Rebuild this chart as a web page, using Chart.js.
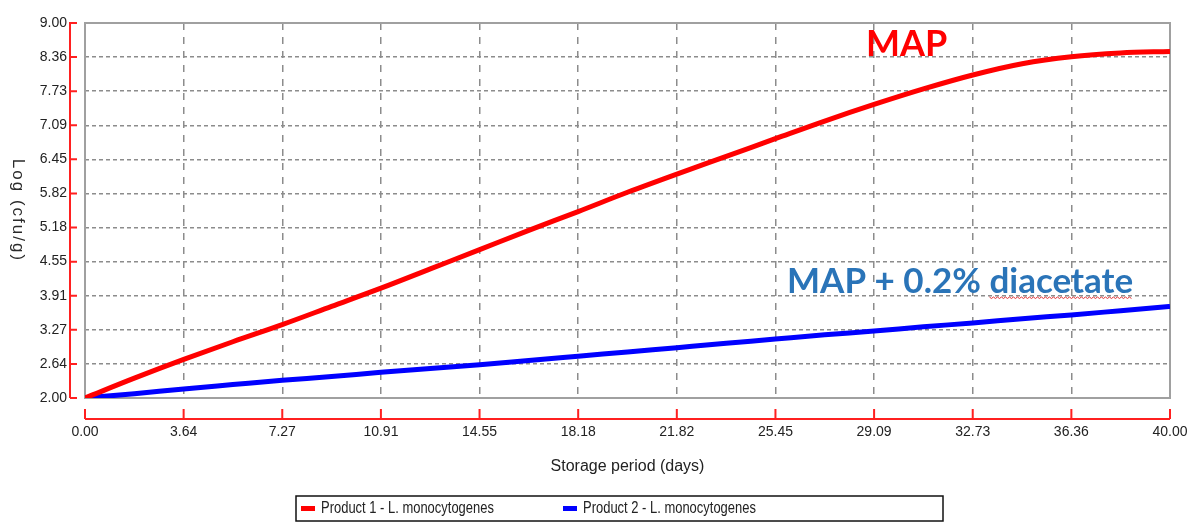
<!DOCTYPE html>
<html>
<head>
<meta charset="utf-8">
<script src="https://cdn.jsdelivr.net/npm/chart.js@4.4.1/dist/chart.umd.min.js"></script>
<style>
  html, body { margin: 0; padding: 0; background: #fff; }
</style>
</head>
<body>
<canvas id="growthChart" width="1194" height="522"></canvas>
<script>
// storage days and log counts
const days = [0, 1.82, 3.64, 5.45, 7.27, 9.09, 10.91, 12.73, 14.55, 16.36, 18.18, 20, 21.82,
  23.64, 25.45, 27.27, 29.09, 30.91, 32.73, 34.55, 36.36, 38.18, 40];
const product1 = [2.00, 2.37, 2.72, 3.05, 3.37, 3.71, 4.05, 4.41, 4.77, 5.13, 5.48, 5.84, 6.18,
  6.51, 6.84, 7.17, 7.48, 7.77, 8.03, 8.24, 8.37, 8.44, 8.47];
const product2 = [2.00, 2.08, 2.17, 2.25, 2.33, 2.40, 2.48, 2.55, 2.62, 2.70, 2.78, 2.86, 2.94,
  3.02, 3.10, 3.18, 3.25, 3.33, 3.40, 3.48, 3.55, 3.63, 3.71];
const seriesLabels = ['Product 1 - L. monocytogenes', 'Product 2 - L. monocytogenes'];
const xTickLabels = ['0.00', '3.64', '7.27', '10.91', '14.55', '18.18', '21.82', '25.45', '29.09', '32.73', '36.36', '40.00'];
const yTickLabels = ['2.00', '2.64', '3.27', '3.91', '4.55', '5.18', '5.82', '6.45', '7.09', '7.73', '8.36', '9.00'];

const FONT = "'Liberation Sans', Arial, sans-serif";
const AXIS_RED = '#ff2020';

function spread(labels, min, max) {
  return labels.map((t, i) => ({ value: min + i * (max - min) / (labels.length - 1) }));
}

const decorations = {
  id: 'decorations',
  beforeDatasetsDraw(chart) {
    const { ctx, chartArea: a } = chart;
    ctx.save();
    ctx.strokeStyle = '#a0a0a0';
    ctx.lineWidth = 2;
    ctx.strokeRect(a.left, a.top, a.right - a.left, a.bottom - a.top);
    ctx.restore();
  },
  afterDraw(chart) {
    const { ctx, chartArea: a, scales: { x, y } } = chart;
    ctx.save();

    // offset red axis lines with their ticks
    ctx.strokeStyle = AXIS_RED;
    ctx.lineWidth = 2;
    ctx.beginPath();
    ctx.moveTo(70, a.top - 1);
    ctx.lineTo(70, a.bottom);
    y.ticks.forEach(t => {
      const py = y.getPixelForValue(t.value);
      ctx.moveTo(70, py);
      ctx.lineTo(77, py);
    });
    ctx.moveTo(a.left, 419);
    ctx.lineTo(a.right, 419);
    x.ticks.forEach(t => {
      const px = x.getPixelForValue(t.value);
      ctx.moveTo(px, 409);
      ctx.lineTo(px, 419);
    });
    ctx.stroke();

    // y title, reading top to bottom
    ctx.fillStyle = '#2a2a2a';
    ctx.font = '17px ' + FONT;
    ctx.letterSpacing = '2px';
    ctx.textAlign = 'center';
    ctx.textBaseline = 'middle';
    ctx.translate(18, (a.top + a.bottom) / 2);
    ctx.rotate(Math.PI / 2);
    ctx.fillText('Log (cfu/g)', 0, 0);
    ctx.setTransform(1, 0, 0, 1, 0, 0);
    ctx.letterSpacing = '0px';

    // annotations
    ctx.textAlign = 'left';
    ctx.textBaseline = 'alphabetic';
    ctx.fillStyle = '#ff0000';
    ctx.font = 'bold 36px Lato, sans-serif';
    ctx.fillText('MAP', x.getPixelForValue(28.79), y.getPixelForValue(8.38));

    ctx.fillStyle = '#2a74b8';
    ctx.font = 'bold 35px Lato, sans-serif';
    const bx = x.getPixelForValue(25.88);
    const by = y.getPixelForValue(3.96);
    ctx.fillText('MAP + 0.2% diacetate', bx, by);
    const pre = ctx.measureText('MAP + 0.2% ').width;
    const word = ctx.measureText('diacetate').width;
    ctx.strokeStyle = '#e03030';
    ctx.lineWidth = 1;
    ctx.beginPath();
    for (let i = 0; i <= word; i += 2) {
      const py = by + 4 + ((i / 2) % 2 ? 1.5 : 0);
      if (i === 0) ctx.moveTo(bx + pre + i, py); else ctx.lineTo(bx + pre + i, py);
    }
    ctx.stroke();

    // legend box
    ctx.strokeStyle = '#111';
    ctx.lineWidth = 1.5;
    ctx.strokeRect(296, 496, 647, 25);
    ctx.font = '16px ' + FONT;
    ctx.textBaseline = 'middle';
    const items = [{ sx: 301, tx: 321 }, { sx: 563, tx: 583 }];
    chart.data.datasets.forEach((ds, i) => {
      ctx.fillStyle = ds.borderColor;
      ctx.fillRect(items[i].sx, 506, 14, 5);
      ctx.fillStyle = '#222';
      // squeeze horizontally to imitate the narrow face
      ctx.save();
      ctx.translate(items[i].tx, 509);
      ctx.scale(0.81, 1);
      ctx.fillText(ds.label, 0, 0);
      ctx.restore();
    });

    ctx.restore();
  }
};

const ctx = document.getElementById('growthChart').getContext('2d');

const growthChart = new Chart(ctx, {
  type: 'line',
  data: {
    datasets: [
      {
        label: seriesLabels[0],
        data: days.map((d, i) => ({ x: d, y: product1[i] })),
        borderColor: '#ff0000',
        borderWidth: 5,
        pointRadius: 0,
        fill: false,
        cubicInterpolationMode: 'monotone'
      },
      {
        label: seriesLabels[1],
        data: days.map((d, i) => ({ x: d, y: product2[i] })),
        borderColor: '#0000ff',
        borderWidth: 5,
        pointRadius: 0,
        fill: false,
        cubicInterpolationMode: 'monotone'
      }
    ]
  },
  options: {
    responsive: false,
    animation: false,
    devicePixelRatio: 1,
    layout: { padding: { left: 0, top: 23, right: 24, bottom: 0 } },
    plugins: {
      legend: { display: false },
      tooltip: { enabled: false }
    },
    scales: {
      x: {
        type: 'linear',
        min: 0,
        max: 40,
        afterBuildTicks: s => { s.ticks = spread(xTickLabels, 0, 40); },
        afterFit: s => { s.height = 124; s.paddingLeft = 0; s.paddingRight = 0; },
        ticks: {
          callback: (v, i) => xTickLabels[i],
          padding: 26,
          maxRotation: 0,
          autoSkip: false,
          color: '#222',
          font: { family: FONT, size: 14 }
        },
        grid: { color: '#8c8c8c', lineWidth: 1.5, drawTicks: false },
        border: { display: false, dash: [7, 7] },
        title: {
          display: true,
          text: 'Storage period (days)',
          color: '#222',
          font: { family: FONT, size: 16 },
          padding: { top: 0, bottom: 46 }
        }
      },
      y: {
        min: 2,
        max: 9,
        afterBuildTicks: s => { s.ticks = spread(yTickLabels, 2, 9); },
        afterFit: s => { s.width = 85; s.paddingTop = 0; s.paddingBottom = 0; },
        ticks: {
          callback: (v, i) => yTickLabels[i],
          padding: 18,
          autoSkip: false,
          color: '#222',
          font: { family: FONT, size: 14 }
        },
        grid: { color: '#8c8c8c', lineWidth: 1.5, drawTicks: false },
        border: { display: false, dash: [4, 3] }
      }
    }
  },
  plugins: [decorations]
});
</script>
</body>
</html>
